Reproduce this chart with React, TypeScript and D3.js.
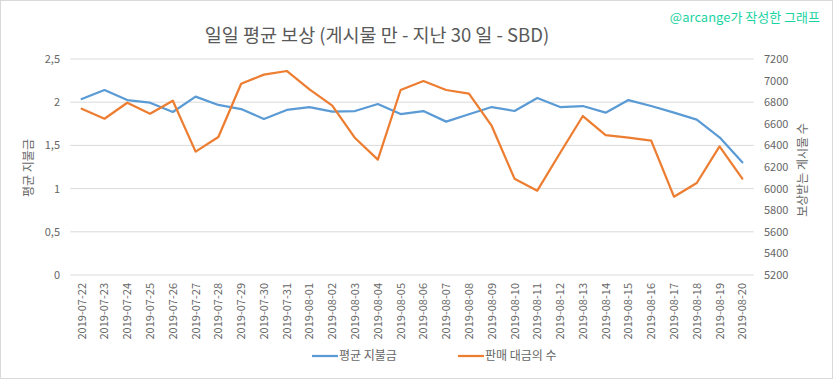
import React from "react";
import * as d3 from "d3";

const dates = [
  "2019-07-22","2019-07-23","2019-07-24","2019-07-25","2019-07-26","2019-07-27","2019-07-28","2019-07-29","2019-07-30","2019-07-31",
  "2019-08-01","2019-08-02","2019-08-03","2019-08-04","2019-08-05","2019-08-06","2019-08-07","2019-08-08","2019-08-09","2019-08-10",
  "2019-08-11","2019-08-12","2019-08-13","2019-08-14","2019-08-15","2019-08-16","2019-08-17","2019-08-18","2019-08-19","2019-08-20",
];
const avgPayout = [
  2.037, 2.141, 2.025, 1.994, 1.887, 2.064, 1.968, 1.921, 1.806, 1.91,
  1.944, 1.89, 1.898, 1.979, 1.863, 1.898, 1.775, 1.86, 1.944, 1.898,
  2.049, 1.944, 1.956, 1.879, 2.025, 1.956, 1.879, 1.798, 1.594, 1.304,
];
const postCount = [
  6740, 6647, 6795, 6694, 6814, 6342, 6478, 6971, 7055, 7089,
  6919, 6768, 6468, 6268, 6913, 6996, 6913, 6879, 6580, 6092,
  5981, 6330, 6672, 6496, 6471, 6444, 5925, 6052, 6391, 6092,
];
const leftTicks = [0, 0.5, 1, 1.5, 2, 2.5];
const rightTicks = [5200, 5400, 5600, 5800, 6000, 6200, 6400, 6600, 6800, 7000, 7200];

const title = "일일 평균 보상 (게시물 만 - 지난 30 일 - SBD)";
const watermark = "@arcange가 작성한 그래프";
const leftTitle = "평균 지불금";
const rightTitle = "보상받는 게시물 수";
const seriesNames = ["평균 지불금", "판매 대금의 수"];
const colors = ["#5b9bd5", "#ed7d31"];

const W = 833, H = 379;
const plot = { left: 70.3, right: 753.7, top: 59, bottom: 275 };
const font = "'Noto Sans CJK KR', 'Noto Sans', sans-serif";
const txt = "#666666";

export default function App() {
  const x = d3.scalePoint<string>().domain(dates).range([plot.left, plot.right]).padding(0.5);
  const yL = d3.scaleLinear().domain([0, 2.5]).range([plot.bottom, plot.top]);
  const yR = d3.scaleLinear().domain([5200, 7200]).range([plot.bottom, plot.top]);
  const lineL = d3.line<number>().x((_, i) => x(dates[i])!).y((d) => yL(d));
  const lineR = d3.line<number>().x((_, i) => x(dates[i])!).y((d) => yR(d));

  return (
    <svg width={W} height={H} style={{ position: "absolute", left: 0, top: 0, display: "block" }} fontFamily={font}>
      <rect x={0.5} y={0.5} width={W - 1} height={H - 1} fill="#fff" stroke="#d9d9d9" />
      <text x={W - 13} y={22} textAnchor="end" fontSize={13} fill="#19d3a2">{watermark}</text>
      <text x={377} y={42} textAnchor="middle" fontSize={18.5} fill="#595959">{title}</text>
      {leftTicks.map((t) => (
        <g key={"l" + t}>
          <line x1={plot.left} x2={plot.right} y1={yL(t)} y2={yL(t)} stroke="#d9d9d9" strokeWidth={1} />
          <text x={60} y={yL(t) + 4} textAnchor="end" fontSize={11} fill={txt}>{String(t).replace(".", ",")}</text>
        </g>
      ))}
      {rightTicks.map((t) => (
        <text key={"r" + t} x={764} y={yR(t) + 4} fontSize={11} fill={txt}>{t}</text>
      ))}
      <text transform={`translate(33,168) rotate(-90)`} textAnchor="middle" fontSize={12} fill={txt}>{leftTitle}</text>
      <text transform={`translate(807,170) rotate(-90)`} textAnchor="middle" fontSize={12} fill={txt}>{rightTitle}</text>
      {dates.map((d) => (
        <text key={d} transform={`translate(${x(d)! + 4},283) rotate(-90)`} textAnchor="end" fontSize={11} fill={txt}>{d}</text>
      ))}
      <path d={lineL(avgPayout)!} fill="none" stroke={colors[0]} strokeWidth={2.25} strokeLinejoin="round" strokeLinecap="round" />
      <path d={lineR(postCount)!} fill="none" stroke={colors[1]} strokeWidth={2.25} strokeLinejoin="round" strokeLinecap="round" />
      <g>
        <line x1={312} x2={338} y1={356} y2={356} stroke={colors[0]} strokeWidth={2.25} />
        <text x={339} y={360} fontSize={12} fill={txt}>{seriesNames[0]}</text>
        <line x1={458} x2={484} y1={356} y2={356} stroke={colors[1]} strokeWidth={2.25} />
        <text x={485} y={360} fontSize={12} fill={txt}>{seriesNames[1]}</text>
      </g>
    </svg>
  );
}
